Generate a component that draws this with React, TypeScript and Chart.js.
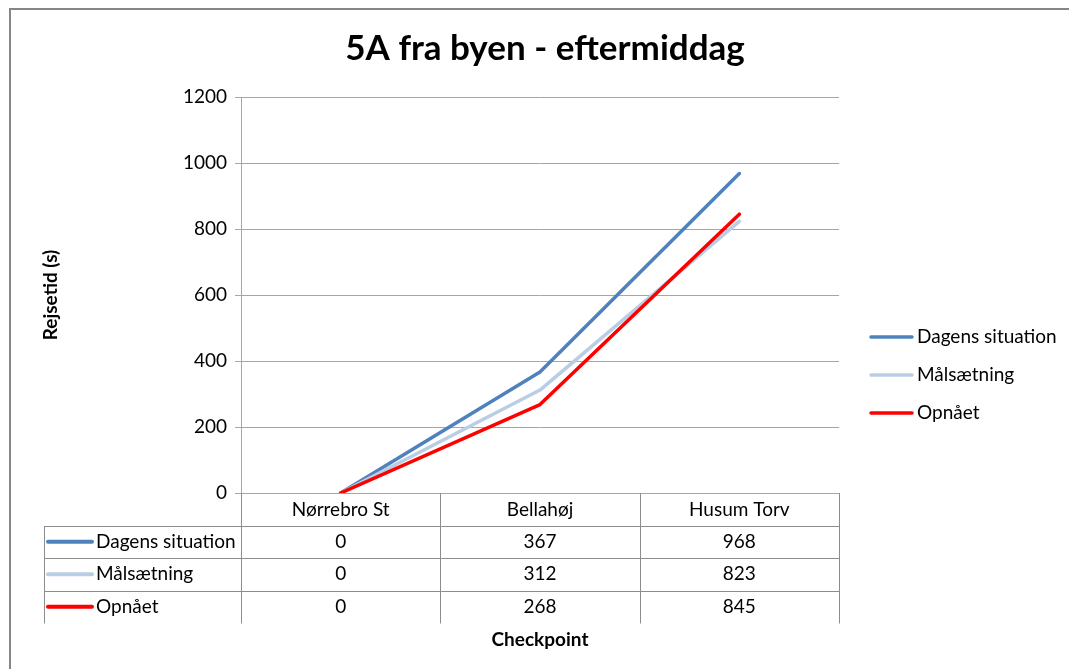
import { useEffect, useRef } from 'react';
import { Chart, registerables } from 'chart.js';

Chart.register(...registerables);

const TITLE = '5A fra byen - eftermiddag';
const X_TITLE = 'Checkpoint';
const Y_TITLE = 'Rejsetid (s)';
const categories = ['Nørrebro St', 'Bellahøj', 'Husum Torv'];
const seriesNames = ['Dagens situation', 'Målsætning', 'Opnået'];
const dagensSituation = [0, 367, 968];
const maalsaetning = [0, 312, 823];
const opnaaet = [0, 268, 845];
const seriesValues = [dagensSituation, maalsaetning, opnaaet];
const seriesColors = ['#4F81BD', '#B9CDE5', '#FF0000'];
const Y_MIN = 0;
const Y_MAX = 1200;
const Y_STEP = 200;

const FONT = 'Lato';
const GRID = '#a6a6a6';
const TABLE_LINE = '#8c8c8c';

const W = 1069;
const H = 669;

const framePlugin = {
  id: 'frame',
  beforeDraw(chart: any) {
    const { ctx } = chart;
    ctx.save();
    ctx.fillStyle = '#ffffff';
    ctx.fillRect(0, 0, chart.width, chart.height);
    ctx.strokeStyle = '#868686';
    ctx.lineWidth = 2;
    ctx.strokeRect(10, 9, chart.width + 10, chart.height + 10);
    ctx.restore();
  },
};

const extrasPlugin = {
  id: 'extras',
  afterDraw(chart: any) {
    const { ctx, chartArea } = chart;
    const xs = chart.scales.x;
    const n = categories.length;
    const half = (xs.getPixelForValue(1) - xs.getPixelForValue(0)) / 2;
    const top = chartArea.bottom;
    const rowH = 32.5;
    const tableLeft = 44;
    const rows = chart.data.datasets.length;
    const crisp = (v: number) => Math.round(v) + 0.5;

    ctx.save();
    // title
    ctx.fillStyle = '#000';
    ctx.font = `bold 35px ${FONT}`;
    ctx.textAlign = 'center';
    ctx.textBaseline = 'middle';
    ctx.fillText(TITLE, 545, 49);

    // table lines
    ctx.strokeStyle = TABLE_LINE;
    ctx.lineWidth = 1;
    ctx.beginPath();
    for (let r = 1; r <= rows; r++) {
      const y = crisp(top + r * rowH);
      ctx.moveTo(tableLeft, y);
      ctx.lineTo(chartArea.right + 0.5, y);
    }
    const bottom = crisp(top + (rows + 1) * rowH);
    for (let i = 0; i <= n; i++) {
      const bx = i < n ? xs.getPixelForValue(i) - half : xs.getPixelForValue(n - 1) + half;
      ctx.moveTo(crisp(bx), top);
      ctx.lineTo(crisp(bx), bottom);
    }
    ctx.moveTo(crisp(tableLeft), crisp(top + rowH));
    ctx.lineTo(crisp(tableLeft), bottom);
    ctx.stroke();

    // table contents
    ctx.font = `19px ${FONT}`;
    ctx.textBaseline = 'middle';
    chart.data.datasets.forEach((ds: any, r: number) => {
      const cy = top + (r + 1.5) * rowH;
      ctx.strokeStyle = ds.borderColor;
      ctx.lineWidth = 4;
      ctx.lineCap = 'round';
      ctx.beginPath();
      ctx.moveTo(48, cy);
      ctx.lineTo(92, cy);
      ctx.stroke();
      ctx.fillStyle = '#000';
      ctx.textAlign = 'left';
      ctx.fillText(ds.label, 96, cy);
      ctx.textAlign = 'center';
      ds.data.forEach((v: number, i: number) => {
        ctx.fillText(String(v), xs.getPixelForValue(i), cy);
      });
    });

    // right legend
    chart.data.datasets.forEach((ds: any, r: number) => {
      const cy = 337 + r * 38;
      ctx.strokeStyle = ds.borderColor;
      ctx.lineWidth = 3.5;
      ctx.lineCap = 'round';
      ctx.beginPath();
      ctx.moveTo(871, cy);
      ctx.lineTo(912, cy);
      ctx.stroke();
      ctx.fillStyle = '#000';
      ctx.textAlign = 'left';
      ctx.fillText(ds.label, 917, cy);
    });
    ctx.restore();
  },
};

export default function App() {
  const ref = useRef<HTMLCanvasElement | null>(null);

  useEffect(() => {
    document.body.style.margin = '0';
    if (!ref.current) return;
    const chart = new Chart(ref.current, {
      type: 'line',
      data: {
        labels: categories,
        datasets: seriesNames.map((name, i) => ({
          label: name,
          data: seriesValues[i],
          borderColor: seriesColors[i],
          backgroundColor: seriesColors[i],
          borderWidth: 3.5,
          borderCapStyle: 'round' as const,
          borderJoinStyle: 'round' as const,
          pointRadius: 0,
          tension: 0,
          order: seriesNames.length - i,
        })),
      },
      options: {
        animation: false,
        responsive: false,
        maintainAspectRatio: false,
        layout: { padding: { top: 97, right: 230, left: 0, bottom: 0 } },
        plugins: {
          legend: { display: false },
          title: { display: false },
          tooltip: { enabled: false },
        },
        scales: {
          x: {
            type: 'category',
            offset: true,
            grid: { display: false, drawTicks: false },
            border: { display: true, color: GRID, width: 1 },
            ticks: { color: '#000', font: { family: FONT, size: 19 }, padding: 5, maxRotation: 0 },
            title: {
              display: true,
              text: X_TITLE,
              color: '#000',
              font: { family: FONT, size: 19, weight: 'bold' },
              padding: { top: 0, bottom: 18 },
            },
            afterFit(scale: any) {
              scale.height = H - 493;
            },
          },
          y: {
            min: Y_MIN,
            max: Y_MAX,
            ticks: {
              stepSize: Y_STEP,
              color: '#000',
              font: { family: FONT, size: 19 },
              padding: 8,
              callback: (v: any) => String(v),
            },
            grid: { color: GRID, lineWidth: 1, tickLength: 6, drawTicks: true },
            border: { display: true, color: GRID, width: 1 },
            title: {
              display: true,
              text: Y_TITLE,
              color: '#000',
              font: { family: FONT, size: 19, weight: 'bold' },
              padding: { top: 39, bottom: 0 },
            },
            afterFit(scale: any) {
              scale.width = 241;
            },
          },
        },
      },
      plugins: [framePlugin, extrasPlugin],
    });
    return () => chart.destroy();
  }, []);

  return (
    <div style={{ width: W, height: H }}>
      <canvas ref={ref} width={W} height={H} style={{ display: 'block', width: W, height: H }} />
    </div>
  );
}
